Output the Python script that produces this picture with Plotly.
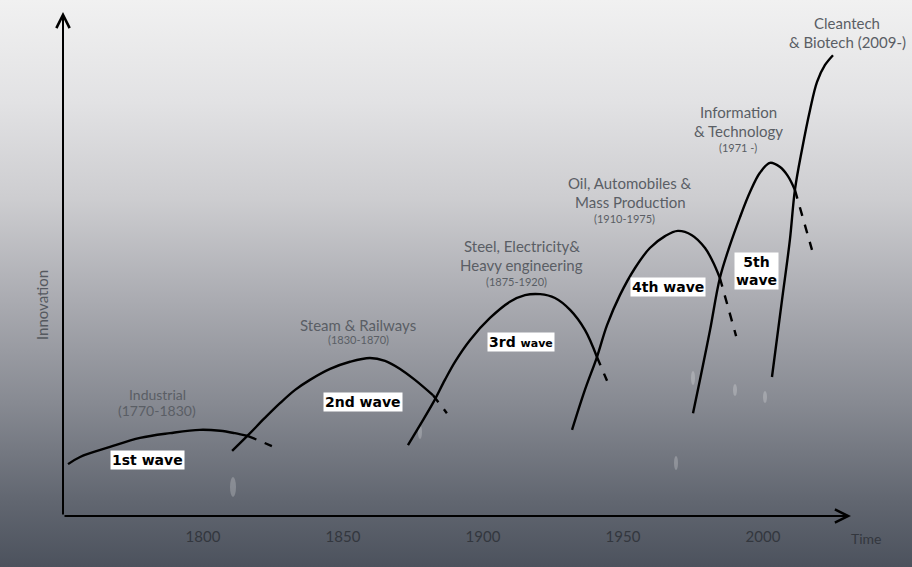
import base64
import plotly.graph_objects as go

# ---- data (years, innovation level) ----
w1_x = [1751.8, 1756.1, 1766.8, 1777.5, 1788.2, 1798.9, 1806.1, 1811.4, 1816.1]
w1_y = [10.9, 12.4, 14.5, 16.4, 17.4, 18.1, 17.9, 17.4, 16.8]
w1_tail_x = [1816.1, 1824.6]
w1_tail_y = [16.8, 14.7]

w2_x = [1810.4, 1816.1, 1822.1, 1827.5, 1832.9, 1838.2, 1845.4, 1852.5, 1859.6, 1865.0, 1870.4, 1875.7, 1882.1]
w2_y = [13.7, 17.0, 20.6, 23.7, 26.5, 28.6, 30.9, 32.4, 33.2, 32.6, 30.9, 28.6, 25.4]
w2_tail_x = [1882.1, 1887.1]
w2_tail_y = [25.4, 21.6]

w3_x = [1873.2, 1877.5, 1882.1, 1886.4, 1890.0, 1895.4, 1902.5, 1909.6, 1915.0, 1920.4, 1925.7, 1931.1, 1936.4, 1940.7]
w3_y = [14.9, 19.1, 23.7, 28.6, 32.4, 37.0, 41.6, 45.0, 46.4, 46.6, 45.8, 43.3, 39.1, 33.4]
w3_tail_x = [1940.7, 1944.3]
w3_tail_y = [33.4, 28.4]

w4_x = [1931.8, 1936.4, 1940.7, 1944.3, 1948.9, 1954.3, 1959.6, 1965.0, 1969.6, 1974.6, 1979.3, 1982.1, 1984.6]
w4_y = [18.1, 26.5, 33.4, 40.1, 46.4, 52.1, 56.3, 58.8, 59.9, 59.0, 56.3, 53.4, 50.0]
w4_tail_x = [1984.6, 1990.4]
w4_tail_y = [50.0, 37.8]

w5_x = [1975.0, 1977.5, 1981.1, 1984.6, 1988.2, 1991.8, 1995.4, 1998.9, 2002.5, 2006.1, 2008.9, 2011.4]
w5_y = [21.6, 28.6, 39.1, 50.0, 56.9, 62.8, 68.1, 72.1, 74.2, 73.3, 71.4, 68.5]
w5_tail_x = [2011.4, 2017.5]
w5_tail_y = [68.5, 55.9]

w6_x = [2003.2, 2006.8, 2009.6, 2011.4, 2013.9, 2016.8, 2019.3, 2022.1, 2025.0]
w6_y = [29.2, 45.4, 58.0, 68.5, 76.9, 85.3, 91.2, 94.7, 96.8]

tick_years = [1800, 1850, 1900, 1950, 2000]
tick_labels = ["1800", "1850", "1900", "1950", "2000"]

# title lines: text, year, level, font size
title_lines = [
    ("Industrial", 1783.6, 25.6, 14),
    ("(1770-1830)", 1783.6, 22.1, 14),
    ("Steam & Railways", 1855.4, 40.1, 15),
    ("(1830-1870)", 1855.4, 37.0, 11),
    ("Steel, Electricity&", 1913.9, 56.7, 15),
    ("Heavy engineering", 1913.9, 52.7, 15),
    ("(1875-1920)", 1912.1, 49.2, 11),
    ("Oil, Automobiles &", 1952.5, 70.0, 15),
    ("Mass Production", 1952.5, 66.0, 15),
    ("(1910-1975)", 1950.4, 62.6, 11),
    ("Information", 1991.1, 84.9, 15),
    ("& Technology", 1991.1, 80.9, 15),
    ("(1971 -)", 1991.1, 77.5, 11),
    ("Cleantech", 2030.0, 103.6, 15),
    ("& Biotech (2009-)", 2030.0, 99.6, 15),
]

wave_boxes = [
    ("1st wave", 1780.0, 11.8),
    ("2nd wave", 1857.0, 24.0),
    ("3rd <span style='font-size:11px'>wave</span>", 1913.6, 36.6),
    ("4th wave", 1966.0, 48.1),
    ("5th<br>wave", 1997.5, 51.5),
]

# ---- figure ----
W, H = 912, 567
L, R, T, B = 63, 61, 12, 51
pw, ph = W - L - R, H - T - B

fig = go.Figure()

solid = dict(color="black", width=2.4)
dashed = dict(color="black", width=2.4, dash="dash")
for xs, ys in [(w1_x, w1_y), (w2_x, w2_y), (w3_x, w3_y), (w4_x, w4_y), (w5_x, w5_y), (w6_x, w6_y)]:
    fig.add_trace(go.Scatter(x=xs, y=ys, mode="lines", line=dict(shape="spline", **solid),
                             hoverinfo="skip", showlegend=False))
for xs, ys in [(w1_tail_x, w1_tail_y), (w2_tail_x, w2_tail_y), (w3_tail_x, w3_tail_y),
               (w4_tail_x, w4_tail_y), (w5_tail_x, w5_tail_y)]:
    fig.add_trace(go.Scatter(x=xs, y=ys, mode="lines", line=dashed,
                             hoverinfo="skip", showlegend=False))

# smooth vertical gradient background (inline SVG image)
grad_stops = [(0.0, "#f1f1f1"), (0.18, "#e2e2e4"), (0.35, "#cdcdd0"),
              (0.53, "#aaabb1"), (0.71, "#878a92"), (0.88, "#626771"), (1.0, "#4c525d")]
stop_xml = "".join('<stop offset="%.3f" stop-color="%s"/>' % s for s in grad_stops)
svg = ('<svg xmlns="http://www.w3.org/2000/svg" width="%d" height="%d" preserveAspectRatio="none">'
       '<defs><linearGradient id="g" x1="0" y1="0" x2="0" y2="1">%s</linearGradient></defs>'
       '<rect width="%d" height="%d" fill="url(#g)"/></svg>') % (W, H, stop_xml, W, H)
src = "data:image/svg+xml;base64," + base64.b64encode(svg.encode()).decode()

images = [dict(source=src, xref="paper", yref="paper", x=-L / pw, y=(H - B) / ph,
               sizex=W / pw, sizey=H / ph, xanchor="left", yanchor="top",
               sizing="stretch", layer="below")]

def px2paper(px, py):
    return (px - L) / pw, (H - B - py) / ph

# faint light spots (decorative)
spots = [(233, 487, 3, 10), (420, 432, 2, 7), (676, 463, 2, 7), (693, 378, 2, 7),
         (735, 390, 2, 6), (765, 397, 2, 6)]
shapes = []
for cx, cy, rx, ry in spots:
    x0, y0 = px2paper(cx - rx, cy + ry)
    x1, y1 = px2paper(cx + rx, cy - ry)
    shapes.append(dict(type="circle", xref="paper", yref="paper", x0=x0, x1=x1, y0=y0, y1=y1,
                       fillcolor="rgba(255,255,255,0.22)", line=dict(width=0), layer="below"))

annotations = []
annotations.append(dict(x=1, y=0, xref="paper", yref="paper", ax=-pw, ay=0, text="",
                        showarrow=True, arrowhead=5, arrowsize=1.3, arrowwidth=2, arrowcolor="black"))
annotations.append(dict(x=0, y=1, xref="paper", yref="paper", ax=0, ay=ph, text="",
                        showarrow=True, arrowhead=5, arrowsize=1.3, arrowwidth=2, arrowcolor="black"))
tx, ty = px2paper(866, 538)
annotations.append(dict(x=tx, y=ty, xref="paper", yref="paper", xanchor="center", yanchor="middle",
                        text="Time", showarrow=False,
                        font=dict(family="Lato", size=14, color="#33373e")))
ix, iy = px2paper(42, 305)
annotations.append(dict(x=ix, y=iy, xref="paper", yref="paper", xanchor="center", yanchor="middle",
                        text="Innovation", textangle=-90, showarrow=False,
                        font=dict(family="Lato", size=15, color="#55595f")))

for txt, x, y, sz in title_lines:
    annotations.append(dict(x=x, y=y, xref="x", yref="y", text=txt, showarrow=False,
                            xanchor="center", yanchor="middle",
                            font=dict(family="Lato", size=sz, color="#5a5e65")))
for txt, x, y in wave_boxes:
    annotations.append(dict(x=x, y=y, xref="x", yref="y", text="<b>" + txt + "</b>",
                            showarrow=False, align="center", bgcolor="white", borderpad=1,
                            xanchor="center", yanchor="middle",
                            font=dict(family="DejaVu Sans", size=14, color="black")))

fig.update_layout(
    width=W, height=H,
    margin=dict(l=L, r=R, t=T, b=B),
    paper_bgcolor="#9a9ca2",
    plot_bgcolor="rgba(0,0,0,0)",
    images=images,
    shapes=shapes,
    annotations=annotations,
    xaxis=dict(range=[1750, 1750 + pw / 2.8], tickvals=tick_years, ticktext=tick_labels,
               showgrid=False, zeroline=False, showline=False, ticks="",
               tickfont=dict(family="Lato", size=15, color="#33373e"), ticklabelstandoff=10),
    yaxis=dict(range=[0, ph / 4.76], showgrid=False, zeroline=False, showline=False,
               showticklabels=False, ticks=""),
)

fig.write_html("out.html", config={"displayModeBar": False},
               post_script="document.body.style.margin='0';document.body.style.overflow='hidden';")
